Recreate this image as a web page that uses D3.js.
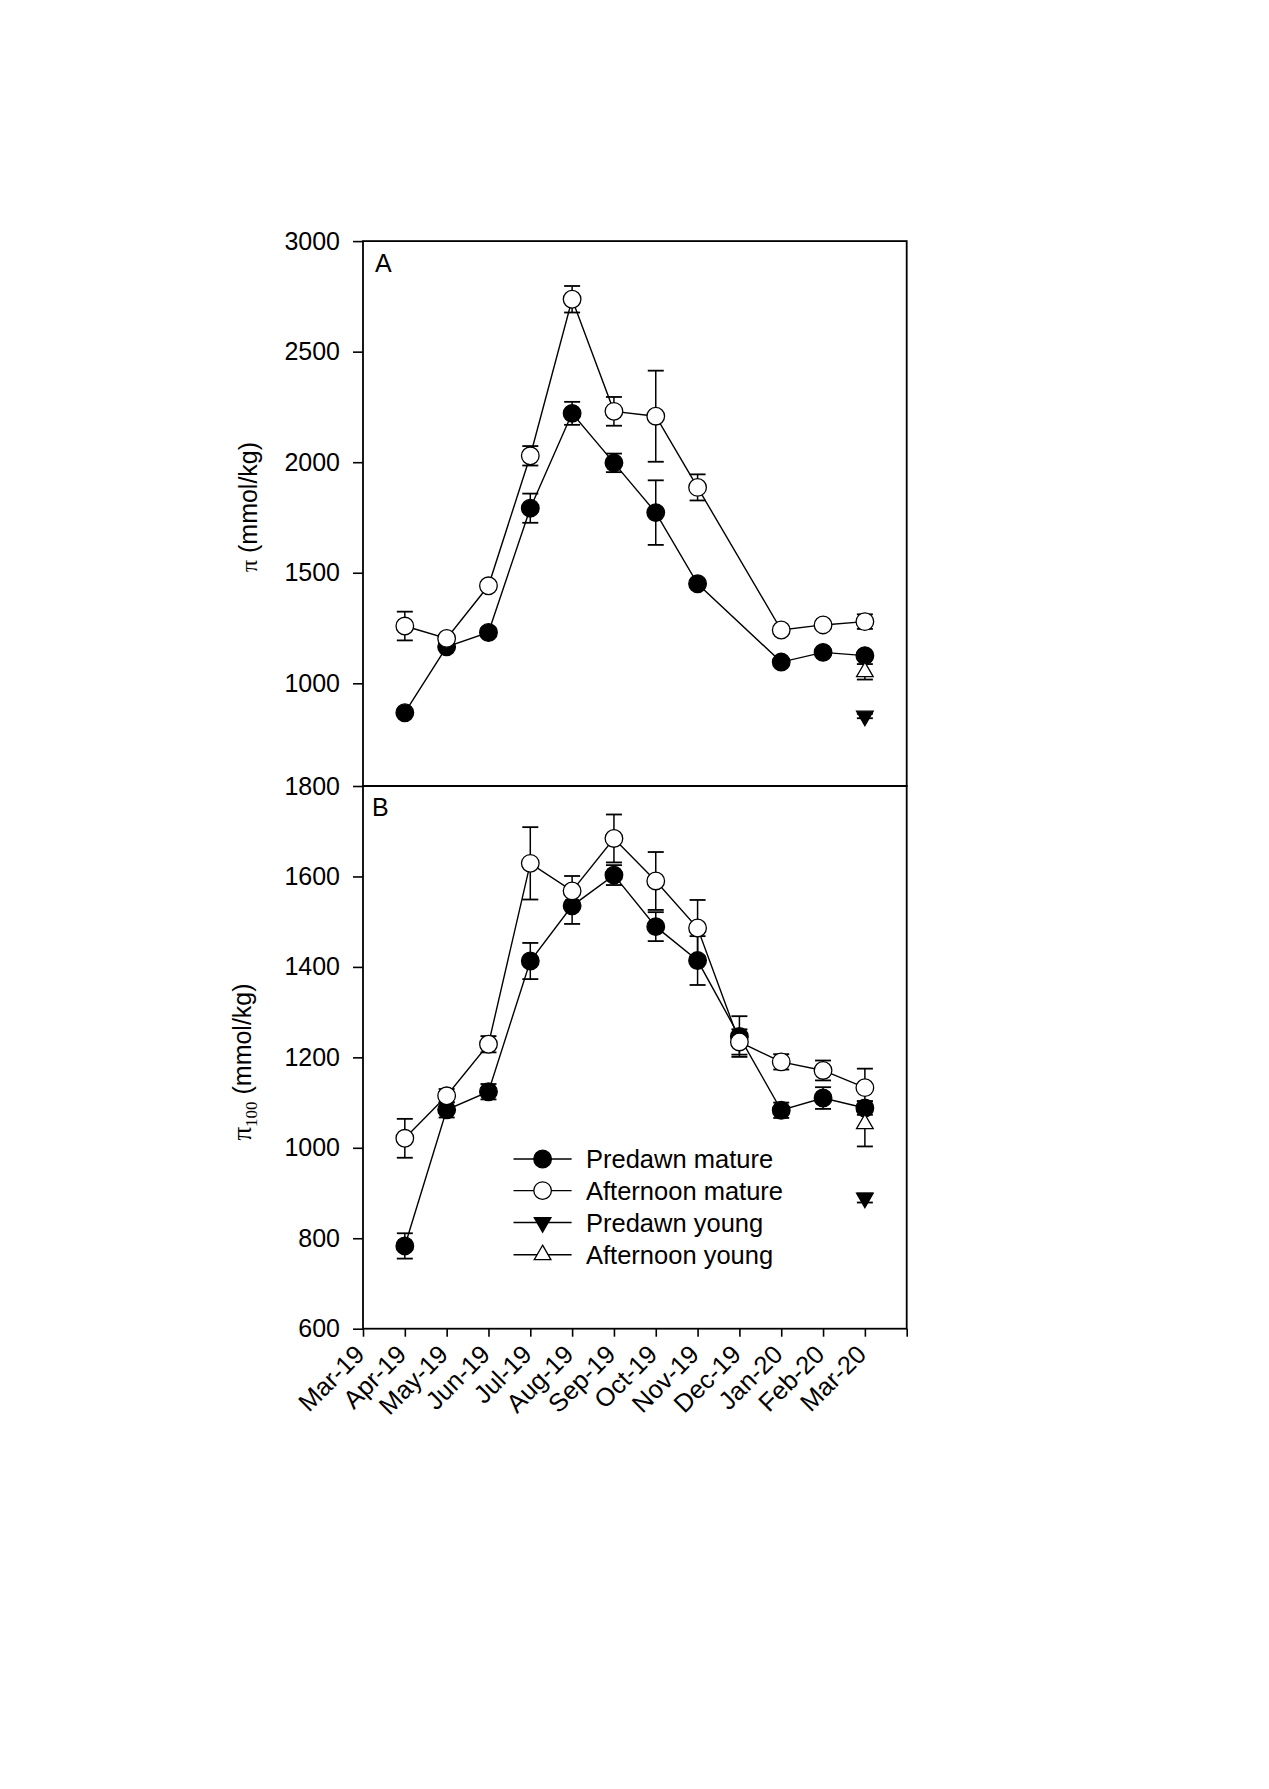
<!DOCTYPE html>
<html>
<head>
<meta charset="utf-8">
<script src="https://cdn.jsdelivr.net/npm/d3@7"></script>
<style>
  html, body { margin: 0; padding: 0; background: #fff; }
  svg text { font-family: Arial, "Liberation Sans", sans-serif; fill: #000; }
</style>
</head>
<body>
<svg id="chart" width="1269" height="1789"></svg>
<script>
// ---------- data ----------
const months = ["Mar-19","Apr-19","May-19","Jun-19","Jul-19","Aug-19","Sep-19","Oct-19","Nov-19","Dec-19","Jan-20","Feb-20","Mar-20"];

// Panel A: pi (mmol/kg)
const aPredawnMature      = [null, 867, 1165, 1230, 1792, 2221, 1997, 1772, 1450, null, 1096, 1140, 1125];
const aPredawnMatureErr   = [null, 10, 15, 20, 66, 52, 42, 146, 18, null, 12, 14, 18];
const aAfternoonMature    = [null, 1259, 1203, 1441, 2029, 2737, 2230, 2208, 1886, null, 1241, 1264, 1279];
const aAfternoonMatureErr = [null, 65, 15, 18, 44, 60, 65, 206, 59, null, 15, 12, 33];
const aPredawnYoung       = [null, null, null, null, null, null, null, null, null, null, null, null, 852];
const aPredawnYoungErr    = [null, null, null, null, null, null, null, null, null, null, null, null, 10];
const aAfternoonYoung     = [null, null, null, null, null, null, null, null, null, null, null, null, 1052];
const aAfternoonYoungErr  = [null, null, null, null, null, null, null, null, null, null, null, null, 35];

// Panel B: pi100 (mmol/kg)
const bPredawnMature      = [null, 783, 1084, 1124, 1413, 1535, 1603, 1489, 1414, 1246, 1083, 1110, 1088];
const bPredawnMatureErr   = [null, 28, 17, 17, 40, 40, 22, 32, 54, 45, 17, 24, 15];
const bAfternoonMature    = [null, 1021, 1115, 1229, 1629, 1568, 1684, 1590, 1486, 1234, 1190, 1171, 1133];
const bAfternoonMatureErr = [null, 43, 15, 18, 80, 33, 53, 64, 62, 28, 17, 22, 42];
const bPredawnYoung       = [null, null, null, null, null, null, null, null, null, null, null, null, 889];
const bPredawnYoungErr    = [null, null, null, null, null, null, null, null, null, null, null, null, 10];
const bAfternoonYoung     = [null, null, null, null, null, null, null, null, null, null, null, null, 1053];
const bAfternoonYoungErr  = [null, null, null, null, null, null, null, null, null, null, null, null, 50];

const aTicks = [1000, 1500, 2000, 2500, 3000];
const bTicks = [600, 800, 1000, 1200, 1400, 1600, 1800];
const seriesNames = ["Predawn mature", "Afternoon mature", "Predawn young", "Afternoon young"];

// ---------- layout ----------
const svg = d3.select("#chart");
const left = 363, right = 906.7;
const x = d3.scaleLinear().domain([0, months.length]).range([left, right]);

const panels = [
  { label: "A", top: 241.1, bottom: 786,
    y: d3.scaleLinear().domain([1000, 3000]).range([683.3, 241.1]),
    ticks: aTicks,
    series: [
      { v: aPredawnMature, e: aPredawnMatureErr, shape: "circle", fill: "#000" },
      { v: aAfternoonMature, e: aAfternoonMatureErr, shape: "circle", fill: "#fff" },
      { v: aPredawnYoung, e: aPredawnYoungErr, shape: "down", fill: "#000" },
      { v: aAfternoonYoung, e: aAfternoonYoungErr, shape: "up", fill: "#fff" }
    ]},
  { label: "B", top: 786, bottom: 1328.7,
    y: d3.scaleLinear().domain([600, 1800]).range([1328.7, 786]),
    ticks: bTicks,
    series: [
      { v: bPredawnMature, e: bPredawnMatureErr, shape: "circle", fill: "#000" },
      { v: bAfternoonMature, e: bAfternoonMatureErr, shape: "circle", fill: "#fff" },
      { v: bPredawnYoung, e: bPredawnYoungErr, shape: "down", fill: "#000" },
      { v: bAfternoonYoung, e: bAfternoonYoungErr, shape: "up", fill: "#fff" }
    ]}
];

const triSize = 120;
function drawMarker(g, shape, fill, cx, cy) {
  if (shape === "circle") {
    g.append("circle").attr("cx", cx).attr("cy", cy).attr("r", 8.8)
      .attr("fill", fill).attr("stroke", "#000").attr("stroke-width", 1.3);
  } else {
    const p = d3.symbol().type(d3.symbolTriangle).size(triSize)();
    g.append("path").attr("d", p)
      .attr("transform", `translate(${cx},${cy})` + (shape === "down" ? " rotate(180)" : ""))
      .attr("fill", fill).attr("stroke", "#000").attr("stroke-width", 1.3);
  }
}

panels.forEach(P => {
  const g = svg.append("g");
  const yAxis = d3.axisLeft(P.y).tickValues(P.ticks).tickSize(10).tickPadding(13).tickFormat(d3.format("d"));
  const ya = g.append("g").attr("transform", `translate(${left},0)`).call(yAxis);
  ya.select(".domain").remove();
  ya.selectAll(".tick line").attr("stroke", "#000").attr("stroke-width", 1.6);
  ya.selectAll(".tick text").style("font-size", "25px").attr("font-family", "Arial, 'Liberation Sans', sans-serif");

  // frame
  g.append("rect").attr("x", left).attr("y", P.top).attr("width", right - left).attr("height", P.bottom - P.top)
    .attr("fill", "none").attr("stroke", "#000").attr("stroke-width", 1.8);

  g.append("text").attr("x", P.label === "A" ? 375 : 372).attr("y", P.label === "A" ? 272 : 816)
    .style("font-size", "25px").text(P.label);

  P.series.forEach(S => {
    const pts = S.v.map((v, i) => ({ i, v, e: S.e[i] })).filter(d => d.v != null);
    if (pts.length > 1) {
      g.append("path").datum(pts)
        .attr("d", d3.line().x(d => x(d.i)).y(d => P.y(d.v)))
        .attr("fill", "none").attr("stroke", "#000").attr("stroke-width", 1.4);
    }
    pts.forEach(d => {
      if (d.e == null) return;
      const cx = x(d.i), y1 = P.y(d.v + d.e), y0 = P.y(d.v - d.e);
      g.append("line").attr("x1", cx).attr("x2", cx).attr("y1", y1).attr("y2", y0)
        .attr("stroke", "#000").attr("stroke-width", 1.5);
      [y1, y0].forEach(yy => g.append("line").attr("x1", cx - 8).attr("x2", cx + 8).attr("y1", yy).attr("y2", yy)
        .attr("stroke", "#000").attr("stroke-width", 1.8));
    });
    pts.forEach(d => drawMarker(g, S.shape, S.fill, x(d.i), P.y(d.v)));
  });
});

// x axis (bottom of panel B)
const xAxis = d3.axisBottom(x).tickValues(d3.range(0, months.length + 1)).tickSize(8).tickFormat(() => "");
const xa = svg.append("g").attr("transform", `translate(0,1328.7)`).call(xAxis);
xa.select(".domain").remove();
xa.selectAll(".tick line").attr("stroke", "#000").attr("stroke-width", 1.6);
svg.append("g").selectAll("text").data(months).join("text")
  .attr("transform", (d, i) => `translate(${x(i) + 3},1356) rotate(-45)`)
  .attr("text-anchor", "end").style("font-size", "25.5px").text(d => d);

// y titles
const tA = svg.append("text").attr("transform", "translate(257,507) rotate(-90)")
  .attr("text-anchor", "middle").style("font-size", "25px");
tA.append("tspan").style("font-family", "'Liberation Serif', 'Times New Roman', serif").style("font-size", "24px").text("π");
tA.append("tspan").text(" (mmol/kg)");

const tB = svg.append("text").attr("transform", "translate(251,1062) rotate(-90)")
  .attr("text-anchor", "middle").style("font-size", "25px");
tB.append("tspan").style("font-family", "'Liberation Serif', 'Times New Roman', serif").style("font-size", "27px").text("π");
tB.append("tspan").style("font-family", "'Liberation Serif', 'Times New Roman', serif").style("font-size", "17px").attr("dy", 6).text("100");
tB.append("tspan").attr("dy", -6).text(" (mmol/kg)");

// legend
const legendY = [1159, 1190.6, 1222.5, 1254.8];
const legendShapes = [["circle", "#000"], ["circle", "#fff"], ["down", "#000"], ["up", "#fff"]];
const lg = svg.append("g");
seriesNames.forEach((name, k) => {
  const yy = legendY[k];
  lg.append("line").attr("x1", 513.5).attr("x2", 571.6).attr("y1", yy).attr("y2", yy)
    .attr("stroke", "#000").attr("stroke-width", 1.4);
  drawMarker(lg, legendShapes[k][0], legendShapes[k][1], 542.6, yy);
  lg.append("text").attr("x", 586).attr("y", yy).attr("dy", "0.36em").style("font-size", "25.5px").text(name);
});
</script>
</body>
</html>
